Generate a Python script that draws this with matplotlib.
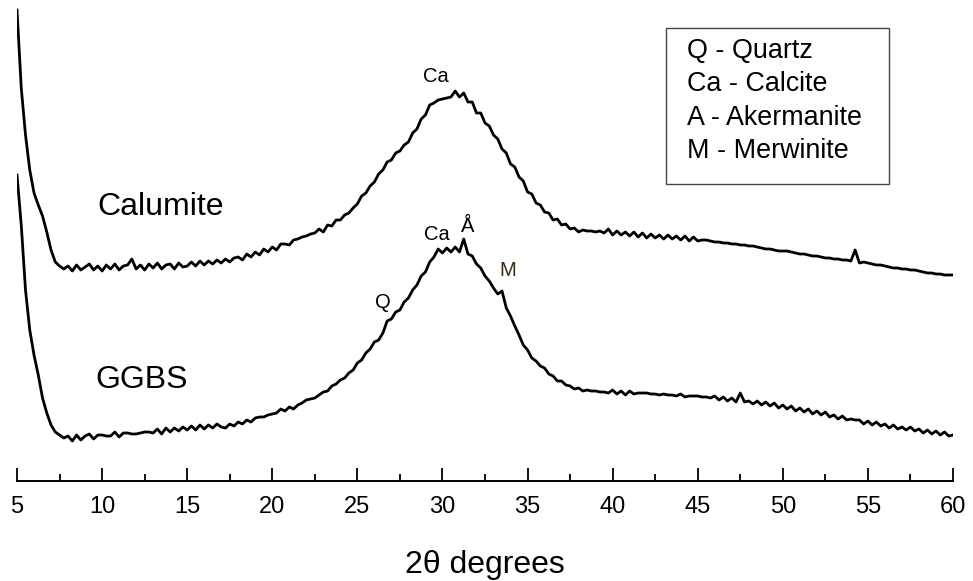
import numpy as np
import matplotlib
matplotlib.use('Agg')
import matplotlib.pyplot as plt
from matplotlib.patches import Rectangle
from matplotlib.ticker import MultipleLocator

plt.rcParams['font.family'] = ['Liberation Sans', 'DejaVu Sans']

# 2-theta grid, 0.25 deg steps from 5 to 60
two_theta = np.arange(5.0, 60.001, 0.25)

# intensities (arbitrary units), 4 values per degree
calumite = [
    471, 393, 346, 311,  # 5
    288, 276, 265, 249,  # 6
    231, 219, 215, 212,  # 7
    215, 210, 216, 211,  # 8
    214, 217, 211, 215,  # 9
    210, 216, 212, 217,  # 10
    211, 215, 216, 222,  # 11
    212, 216, 211, 217,  # 12
    213, 218, 212, 216,  # 13
    217, 212, 218, 214,  # 14
    215, 219, 215, 220,  # 15
    216, 220, 217, 221,  # 16
    218, 222, 219, 223,  # 17
    224, 221, 227, 224,  # 18
    229, 226, 232, 229,  # 19
    234, 231, 237, 237,  # 20
    236, 241, 242, 244,  # 21
    245, 247, 248, 252,  # 22
    249, 256, 255, 261,  # 23
    261, 266, 268, 273,  # 24
    277, 285, 288, 295,  # 25
    299, 307, 311, 319,  # 26
    321, 328, 330, 336,  # 27
    339, 348, 352, 362,  # 28
    366, 376, 378, 381,  # 29
    382, 383, 384, 390,  # 30
    384, 388, 379, 379,  # 31
    368, 368, 358, 355,  # 32
    346, 342, 332, 328,  # 33
    317, 314, 304, 300,  # 34
    289, 287, 278, 276,  # 35
    269, 268, 261, 262,  # 36
    256, 257, 252, 253,  # 37
    249, 251, 250, 250,  # 38
    249, 250, 248, 252,  # 39
    246, 250, 246, 249,  # 40
    245, 249, 244, 248,  # 41
    243, 247, 243, 246,  # 42
    242, 246, 242, 245,  # 43
    241, 245, 240, 244,  # 44
    240, 241, 241, 240,  # 45
    239, 239, 238, 238,  # 46
    237, 237, 236, 236,  # 47
    235, 235, 234, 233,  # 48
    232, 232, 231, 230,  # 49
    230, 230, 229, 228,  # 50
    227, 227, 226, 225,  # 51
    225, 224, 223, 223,  # 52
    222, 222, 221, 221,  # 53
    220, 231, 218, 219,  # 54
    218, 217, 216, 216,  # 55
    215, 214, 213, 213,  # 56
    212, 212, 211, 211,  # 57
    210, 209, 208, 208,  # 58
    207, 207, 206, 206,  # 59
    206,                 # 60
]

ggbs = [
    306, 256, 191, 151,  # 5
    126, 106, 83, 68,    # 6
    56, 49, 46, 43,      # 7
    45, 40, 46, 41,      # 8
    45, 47, 42, 46,      # 9
    46, 45, 45, 49,      # 10
    44, 48, 48, 47,      # 11
    47, 48, 49, 49,      # 12
    48, 52, 47, 53,      # 13
    49, 53, 50, 54,      # 14
    51, 55, 51, 56,      # 15
    52, 56, 53, 57,      # 16
    54, 53, 57, 55,      # 17
    59, 57, 61, 59,      # 18
    63, 64, 64, 66,      # 19
    67, 68, 72, 70,      # 20
    74, 72, 76, 78,      # 21
    81, 82, 83, 86,      # 22
    89, 90, 95, 97,      # 23
    101, 103, 108, 111,  # 24
    118, 121, 128, 132,  # 25
    139, 141, 148, 160,  # 26
    162, 169, 171, 179,  # 27
    183, 191, 196, 205,  # 28
    209, 219, 224, 232,  # 29
    228, 233, 229, 234,  # 30
    229, 242, 227, 225,  # 31
    217, 213, 205, 200,  # 32
    193, 187, 190, 173,  # 33
    165, 155, 146, 136,  # 34
    131, 123, 120, 115,  # 35
    113, 107, 105, 100,  # 36
    100, 96, 95, 92,     # 37
    93, 90, 91, 90,      # 38
    90, 89, 89, 88,      # 39
    91, 87, 90, 86,      # 40
    90, 87, 88, 88,      # 41
    88, 87, 87, 86,      # 42
    87, 86, 86, 85,      # 43
    87, 84, 85, 85,      # 44
    85, 84, 84, 83,      # 45
    85, 81, 84, 80,      # 46
    83, 79, 88, 79,      # 47
    80, 77, 80, 76,      # 48
    79, 75, 78, 73,      # 49
    76, 72, 75, 70,      # 50
    73, 69, 72, 67,      # 51
    70, 66, 69, 64,      # 52
    66, 62, 65, 61,      # 53
    62, 61, 61, 57,      # 54
    60, 56, 59, 55,      # 55
    57, 53, 56, 52,      # 56
    54, 51, 54, 50,      # 57
    52, 48, 51, 47,      # 58
    50, 46, 49, 45,      # 59
    46,                  # 60
]

key_lines = ['Q - Quartz', 'Ca - Calcite', 'A - Akermanite', 'M - Merwinite']

fig = plt.figure(figsize=(9.73, 5.81), dpi=100)
ax = fig.add_axes([17 / 973, 100 / 581, 936 / 973, 481 / 581])

ax.plot(two_theta, calumite, color='black', lw=2.0)
ax.plot(two_theta, ggbs, color='black', lw=2.0)

ax.set_xlim(5, 60)
ax.set_ylim(0, 481)
for s in ['left', 'right', 'top']:
    ax.spines[s].set_visible(False)
ax.spines['bottom'].set_linewidth(1.4)
ax.set_yticks([])
ax.xaxis.set_major_locator(MultipleLocator(5))
ax.xaxis.set_minor_locator(MultipleLocator(2.5))
ax.tick_params(axis='x', which='major', direction='in', length=9.5, width=1.3,
               labelsize=17, pad=11)
ax.tick_params(axis='x', which='minor', direction='in', length=5, width=1.3)
ax.set_xlabel('2θ degrees', fontsize=23, labelpad=23)

# sample names
ax.text(9.7, 274, 'Calumite', fontsize=23, va='center', ha='left')
ax.text(9.58, 101, 'GGBS', fontsize=23, va='center', ha='left')

# phase markers
ax.text(29.62, 405, 'Ca', fontsize=14.5, ha='center', va='center')
ax.text(29.68, 247, 'Ca', fontsize=14.5, ha='center', va='center')
ax.text(31.5, 255, 'Å', fontsize=14.5, ha='center', va='center')
ax.text(33.85, 211, 'M', fontsize=14.5, ha='center', va='center', color='#3a2810')
ax.text(26.5, 179, 'Q', fontsize=14.5, ha='center', va='center')

# key box
ax.add_patch(Rectangle((43.13, 297), 13.1, 156, fill=False, edgecolor='#444444',
                       lw=1.0))
for i, line in enumerate(key_lines):
    ax.text(44.37, 430 - i * 33.3, line, fontsize=19.4, ha='left', va='center')

fig.savefig('out.png', dpi=100)
